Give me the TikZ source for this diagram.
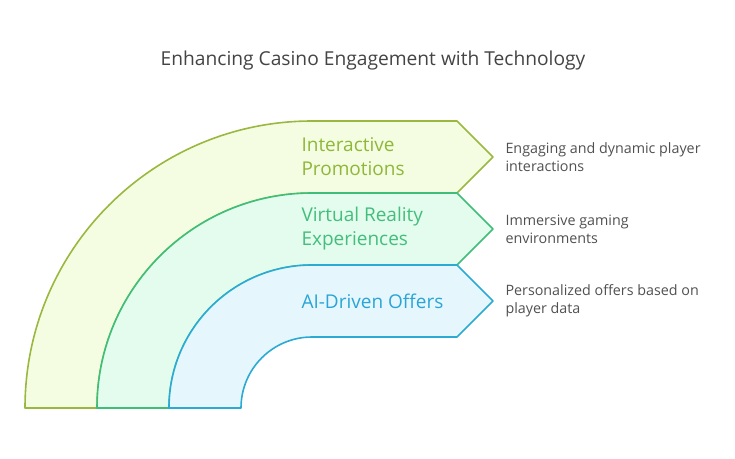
\documentclass[tikz,border=0pt]{standalone}
\usepackage{fontspec}
\setmainfont{Open Sans}
\usepackage{tikz}
\usetikzlibrary{positioning}
\definecolor{promoline}{HTML}{9AB83F}
\definecolor{promofill}{HTML}{F4FDE1}
\definecolor{promotext}{HTML}{8FB73A}
\definecolor{vrline}{HTML}{3EBE79}
\definecolor{vrfill}{HTML}{E3FCEE}
\definecolor{vrtext}{HTML}{43BE7C}
\definecolor{ailine}{HTML}{2BABD3}
\definecolor{aifill}{HTML}{E6F6FD}
\definecolor{aitext}{HTML}{2AA5D6}
\definecolor{desctext}{HTML}{505050}
\tikzset{band/.style={line width=1.6pt,line join=round},
  bandlabel/.style={anchor=west,align=left,font=\fontsize{19}{24}\selectfont},
  desc/.style={anchor=west,align=left,text=desctext,font=\fontsize{14.3}{18}\selectfont}}

\begin{document}
\begin{tikzpicture}[x=1pt,y=-1pt,line cap=round]
  \useasboundingbox (0,0) rectangle (735,458);

  \node (title) at (373,61) {\fontsize{19.2}{22}\selectfont\color{desctext!85!black}Enhancing Casino Engagement with Technology};

  % outer band
  \draw [band,draw=promoline,fill=promofill] (25,408) arc[start angle=180,end angle=270,radius=287]
    -- (457,121) -- (493,157) -- (457,193) -- (312,193)
    arc[start angle=270,end angle=180,radius=215] -- cycle;

  % middle band
  \draw [band,draw=vrline,fill=vrfill] (97,408) arc[start angle=180,end angle=270,radius=215]
    -- (457,193) -- (493,229) -- (457,265) -- (312,265)
    arc[start angle=270,end angle=180,radius=143] -- cycle;

  % inner band
  \draw [band,draw=ailine,fill=aifill] (169,408) arc[start angle=180,end angle=270,radius=143]
    -- (457,265) -- (493,301) -- (457,337) -- (312,337)
    arc[start angle=270,end angle=180,radius=71] -- cycle;

  \node [bandlabel,text=promotext] (promo) at (298,157) {Interactive\\Promotions};
  \node [bandlabel,text=vrtext] (vr) at (298,229) {Virtual Reality\\Experiences};
  \node [bandlabel,text=aitext] (ai) at (298,301) {AI-Driven Offers};

  \node [desc] (promodesc) at (502,157) {Engaging and dynamic player\\interactions};
  \node [desc] (vrdesc) at (502,229) {Immersive gaming\\environments};
  \node [desc] (aidesc) at (502,301) {Personalized offers based on\\player data};

\end{tikzpicture}
\end{document}
